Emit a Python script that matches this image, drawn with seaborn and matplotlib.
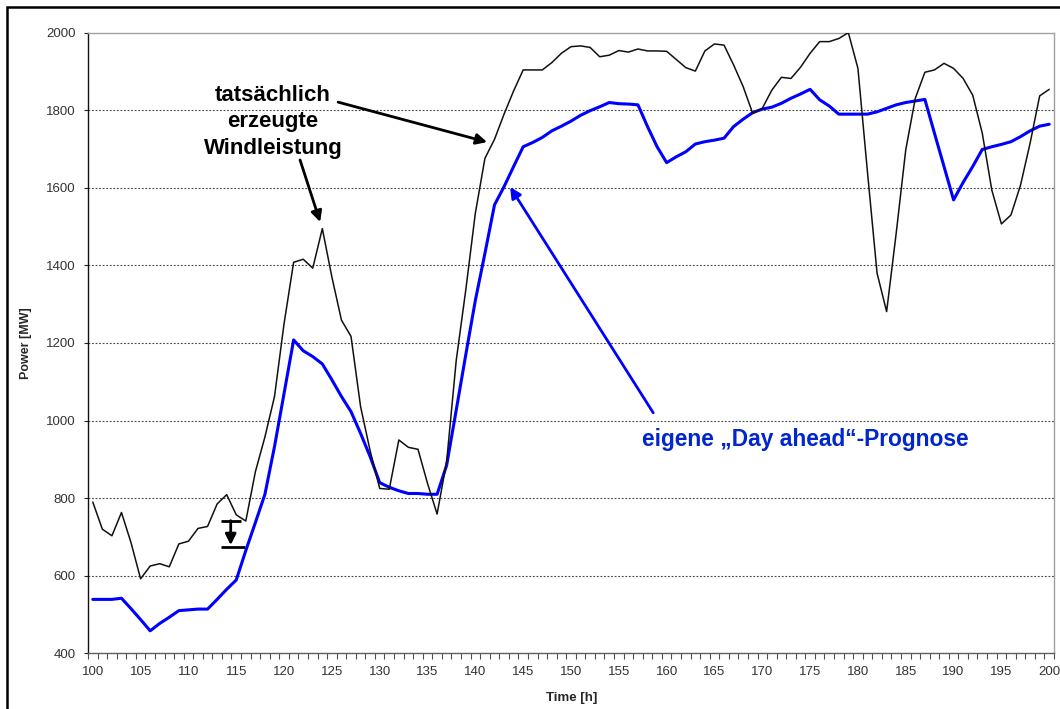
#!/usr/bin/env python3
"""wind power: actual feed-in vs. own day-ahead forecast"""

import matplotlib.pyplot as plt
import matplotlib.patches as mpatches
import numpy as np
import pandas as pd
import seaborn as sns

hours = list(range(100, 201))

actual_mw = [
    790, 720, 703, 763, 685, 592, 625, 631, 623, 682,
    689, 722, 727, 785, 809, 757, 741, 868, 958, 1062,
    1250, 1408, 1416, 1393, 1495, 1370, 1259, 1217, 1036, 922,
    825, 823, 950, 931, 926, 838, 759, 895, 1155, 1337,
    1535, 1676, 1725, 1790, 1850, 1904, 1904, 1904, 1923, 1947,
    1964, 1966, 1962, 1938, 1942, 1954, 1950, 1958, 1953, 1953,
    1952, 1931, 1910, 1901, 1953, 1971, 1968, 1917, 1861, 1792,
    1805, 1852, 1885, 1882, 1911, 1947, 1977, 1977, 1985, 2000,
    1908, 1640, 1380, 1281, 1483, 1698, 1831, 1898, 1904, 1921,
    1908, 1882, 1839, 1741, 1594, 1507, 1530, 1607, 1715, 1837,
    1854,
]

forecast_mw = [
    539, 539, 539, 542, 515, 487, 458, 477, 493, 510,
    512, 514, 514, 539, 565, 589, 665, 737, 810, 933,
    1070, 1208, 1180, 1165, 1146, 1105, 1062, 1023, 967, 907,
    840, 828, 819, 812, 812, 810, 810, 885, 1027, 1170,
    1310, 1431, 1556, 1603, 1655, 1706, 1717, 1730, 1747, 1759,
    1772, 1787, 1799, 1809, 1820, 1817, 1816, 1814, 1758, 1706,
    1665, 1680, 1693, 1713, 1719, 1723, 1728, 1758, 1777, 1794,
    1803, 1808, 1818, 1831, 1842, 1854, 1827, 1811, 1790, 1790,
    1790, 1790, 1796, 1805, 1814, 1820, 1824, 1828, 1741, 1655,
    1569, 1614, 1655, 1699, 1706, 1712, 1719, 1732, 1747, 1759,
    1764,
]

y_ticks = list(range(400, 2001, 200))
x_ticks = list(range(100, 201, 5))

sns.set_style("white")
plt.rcParams['font.family'] = ['Liberation Sans', 'DejaVu Sans']

df = pd.DataFrame({"hour": hours, "actual": actual_mw, "forecast": forecast_mw})

fig = plt.figure(figsize=(10.6, 7.09), dpi=100)
ax = fig.add_axes([88 / 1060, 1 - 653.3 / 709, 966 / 1060, 620.6 / 709])

sns.lineplot(data=df, x="hour", y="forecast", ax=ax, color="#0000FF", linewidth=2.2, zorder=3)
sns.lineplot(data=df, x="hour", y="actual", ax=ax, color="#111111", linewidth=1.1, zorder=4)

ax.set_xlim(99.5, 200.5)
ax.set_ylim(400, 2000)
ax.set_yticks(y_ticks)
ax.set_xticks(x_ticks)
ax.set_xticks(np.arange(99.5, 201, 1), minor=True)
ax.tick_params(axis="x", which="major", length=0, pad=9, labelsize=9.5, labelcolor="#333333")
ax.tick_params(axis="x", which="minor", length=4, width=0.8, color="#505050", direction="out", bottom=True)
ax.tick_params(axis="y", which="major", length=3, width=0.8, color="#222222", direction="out",
               left=True, pad=6, labelsize=9.5, labelcolor="#333333")

for y in y_ticks[1:-1]:
    ax.axhline(y, color="#444444", linewidth=0.8, linestyle=(0, (1.6, 1.6)), zorder=1)

ax.spines["left"].set_color("#111111")
ax.spines["bottom"].set_color("#606060")
ax.spines["top"].set_color("#A0A0A0")
ax.spines["right"].set_color("#A0A0A0")
for s in ax.spines.values():
    s.set_linewidth(1.0)

ax.set_xlabel("Time [h]", fontsize=9.5, fontweight="bold")
ax.set_ylabel("Power [MW]", fontsize=9, fontweight="bold")
ax.xaxis.set_label_coords(0.501, -0.062)
ax.yaxis.set_label_coords(-0.0575, 0.5)

# annotations
ax.text(118.85, 1770, "tatsächlich\nerzeugte\nWindleistung", ha="center", va="center",
        fontsize=16, fontweight="bold", color="black", linespacing=1.32)
arrow_k = dict(arrowstyle="-|>", color="black", lw=2, mutation_scale=16, shrinkA=0, shrinkB=0)
ax.annotate("", xy=(123.77, 1512), xytext=(121.67, 1672), arrowprops=arrow_k)
ax.annotate("", xy=(141.23, 1718), xytext=(125.65, 1821), arrowprops=arrow_k)

ax.text(157.45, 950, "eigene \u201eDay ahead\u201c-Prognose", ha="left", va="center",
        fontsize=16.4, fontweight="bold", color="#0026CC")
ax.annotate("", xy=(143.64, 1602), xytext=(158.6, 1020),
            arrowprops=dict(arrowstyle="-|>", color="#0000FF", lw=2, mutation_scale=16,
                            shrinkA=0, shrinkB=0))

# deviation marker
ax.plot([113.38, 115.47], [742, 742], color="black", lw=2, solid_capstyle="butt")
ax.plot([113.38, 115.92], [673, 673], color="black", lw=2, solid_capstyle="butt")
ax.annotate("", xy=(114.42, 679), xytext=(114.42, 742),
            arrowprops=dict(arrowstyle="-|>", color="black", lw=2, mutation_scale=16,
                            shrinkA=0, shrinkB=0))

# frame around the whole picture
fig.patches.append(mpatches.Rectangle((7 / 1060, -0.05), 1.1, 1 - 7 / 709 + 0.05,
                                      transform=fig.transFigure, fill=False,
                                      edgecolor="black", linewidth=1.8))

fig.savefig("out.png", dpi=100)
